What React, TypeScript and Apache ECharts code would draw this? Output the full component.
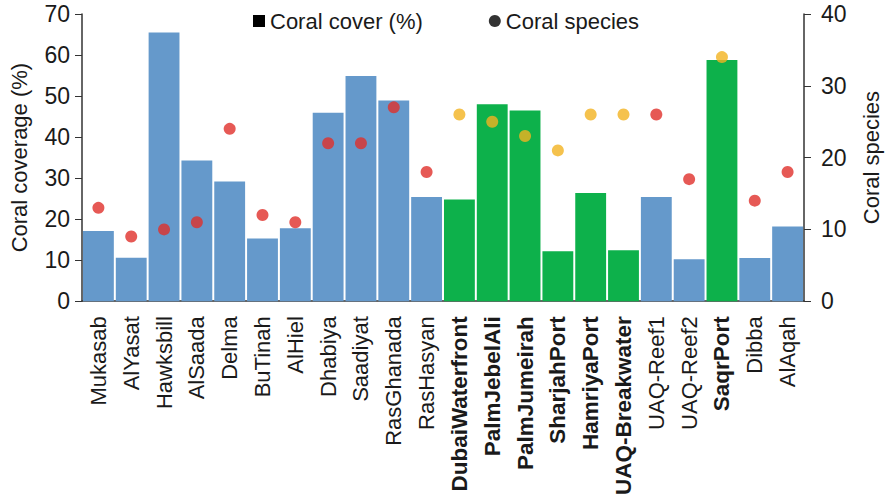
import React, { useEffect, useRef } from "react";
import * as echarts from "echarts";

const categories = [
  "Mukasab", "AlYasat", "Hawksbill", "AlSaada", "Delma", "BuTinah", "AlHiel",
  "Dhabiya", "Saadiyat", "RasGhanada", "RasHasyan", "DubaiWaterfront",
  "PalmJebelAli", "PalmJumeirah", "SharjahPort", "HamriyaPort", "UAQ-Breakwater",
  "UAQ-Reef1", "UAQ-Reef2", "SaqrPort", "Dibba", "AlAqah",
];
const coralCover = [
  17.1, 10.6, 65.5, 34.3, 29.2, 15.3, 17.8, 45.9, 54.9, 48.9, 25.4, 24.8,
  48.0, 46.5, 12.2, 26.4, 12.4, 25.4, 10.2, 58.8, 10.5, 18.2,
];
const coralSpecies = [
  13, 9, 10, 11, 24, 12, 11, 22, 22, 27, 18, 26, 25, 23, 21, 26, 26, 26, 17, 34, 14, 18,
];
const artificialSites = [
  "DubaiWaterfront", "PalmJebelAli", "PalmJumeirah", "SharjahPort",
  "HamriyaPort", "UAQ-Breakwater", "SaqrPort",
];
const leftTicks = { min: 0, max: 70, interval: 10 };
const rightTicks = { min: 0, max: 40, interval: 10 };

const BLUE = "#6599cb";
const GREEN = "#0db14b";
const RED = "#e0302a";
const YELLOW = "#f3b321";
const FONT = "Liberation Sans, Arial, sans-serif";
const TEXT = "#1a1a1a";
const AXIS = "#333333";

export default function App() {
  const ref = useRef<HTMLDivElement>(null);
  useEffect(() => {
    if (!ref.current) return;
    const chart = echarts.init(ref.current, null, { renderer: "svg" });
    const isArt = (n: string) => artificialSites.includes(n);
    chart.setOption({
      animation: false,
      textStyle: { fontFamily: FONT, color: TEXT },
      legend: {
        left: 253,
        top: 10,
        padding: 0,
        itemWidth: 12,
        itemHeight: 12,
        itemGap: 66,
        textStyle: { fontSize: 22, color: TEXT, fontFamily: FONT },
        data: [
          { name: "Coral cover (%)", icon: "rect", itemStyle: { color: "#000" } },
          { name: "Coral species", icon: "circle", itemStyle: { color: "#000" } },
        ],
      },
      grid: { left: 80, right: 78, top: 14, bottom: 196 },
      xAxis: {
        type: "category",
        data: categories,
        axisLine: { lineStyle: { color: AXIS, width: 1.5 } },
        axisTick: { show: false },
        axisLabel: {
          rotate: 90,
          interval: 0,
          margin: 15,
          fontSize: 22,
          color: TEXT,
          fontFamily: FONT,
          formatter: (v: string) => (isArt(v) ? `{b|${v}}` : `{n|${v}}`),
          rich: {
            b: { fontWeight: "bold", fontSize: 22.5, color: TEXT, fontFamily: FONT },
            n: { fontSize: 22, color: TEXT, fontFamily: FONT },
          },
        },
      },
      yAxis: [
        {
          type: "value",
          ...leftTicks,
          name: "Coral coverage (%)",
          nameLocation: "middle",
          nameGap: 52,
          nameTextStyle: { fontSize: 22, color: TEXT, fontFamily: FONT },
          axisLine: { show: true, lineStyle: { color: AXIS, width: 1.5 } },
          axisTick: { show: true, length: 7, lineStyle: { color: AXIS } },
          axisLabel: { fontSize: 23, color: TEXT, margin: 12, fontFamily: FONT },
          splitLine: { show: false },
        },
        {
          type: "value",
          ...rightTicks,
          position: "right",
          name: "Coral species",
          nameLocation: "middle",
          nameGap: 56,
          nameTextStyle: { fontSize: 22, color: TEXT, fontFamily: FONT },
          axisLine: { show: true, lineStyle: { color: AXIS, width: 1.5 } },
          axisTick: { show: true, length: 7, lineStyle: { color: AXIS } },
          axisLabel: { fontSize: 23, color: TEXT, margin: 17, fontFamily: FONT },
          splitLine: { show: false },
        },
      ],
      series: [
        {
          name: "Coral cover (%)",
          type: "bar",
          barCategoryGap: "6%",
          data: coralCover.map((v, i) => ({
            value: v,
            itemStyle: { color: isArt(categories[i]) ? GREEN : BLUE },
          })),
          z: 2,
        },
        {
          name: "Coral species",
          type: "scatter",
          yAxisIndex: 1,
          symbol: "circle",
          symbolSize: 12,
          data: coralSpecies.map((v, i) => ({
            value: v,
            itemStyle: { color: isArt(categories[i]) ? YELLOW : RED },
          })),
          z: 3,
        },
      ],
    });
    return () => chart.dispose();
  }, []);
  return (
    <div
      ref={ref}
      style={{ position: "absolute", left: 0, top: 0, width: 890, height: 498 }}
    />
  );
}
